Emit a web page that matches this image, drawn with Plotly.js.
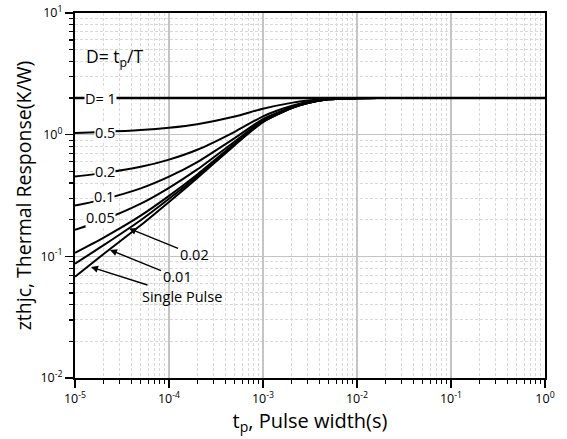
<!DOCTYPE html>
<html>
<head>
<meta charset="utf-8">
<script src="https://cdn.plot.ly/plotly-3.0.1.min.js"></script>
<style>html,body{margin:0;padding:0;background:#fff;}#chart{width:567px;height:439px;}</style>
</head>
<body>
<div id="chart"></div>
<script>
// Pulse width (s)
const tp = [1e-5, 2e-5, 5e-5, 1e-4, 2e-4, 5e-4, 1e-3, 2e-3, 3e-3, 5e-3, 1e-2, 1.7e-2];
// Thermal response Zthjc (K/W) per duty cycle
const zSingle = [0.068, 0.104, 0.18, 0.28, 0.44, 0.82, 1.27, 1.65, 1.82, 1.95, 1.995, 2.0];
const zD001   = [0.087, 0.123, 0.198, 0.297, 0.456, 0.832, 1.277, 1.654, 1.822, 1.951, 1.995, 2.0];
const zD002   = [0.107, 0.142, 0.216, 0.314, 0.471, 0.844, 1.285, 1.657, 1.824, 1.951, 1.995, 2.0];
const zD005   = [0.165, 0.199, 0.271, 0.366, 0.518, 0.879, 1.307, 1.668, 1.829, 1.953, 1.995, 2.0];
const zD01    = [0.261, 0.294, 0.362, 0.452, 0.596, 0.938, 1.343, 1.685, 1.838, 1.955, 1.996, 2.0];
const zD02    = [0.454, 0.483, 0.544, 0.624, 0.752, 1.056, 1.416, 1.72, 1.856, 1.96, 1.996, 2.0];
const zD05    = [1.034, 1.052, 1.09, 1.14, 1.22, 1.41, 1.635, 1.825, 1.91, 1.975, 1.998, 2.0];
const tpD1 = [1e-5, 1];
const zD1  = [2.0, 2.0];

const xTickVals = [1e-5, 1e-4, 1e-3, 1e-2, 1e-1, 1];
const xTickText = ['10<sup>-5</sup>', '10<sup>-4</sup>', '10<sup>-3</sup>', '10<sup>-2</sup>', '10<sup>-1</sup>', '10<sup>0</sup>'];
const yTickVals = [1e-2, 1e-1, 1, 10];
const yTickText = ['10<sup>-2</sup>', '10<sup>-1</sup>', '10<sup>0</sup>', '10<sup>1</sup>'];

function minorVals(lo, hi) {
  const v = [];
  for (let e = lo; e < hi; e++) for (let m = 2; m <= 9; m++) v.push(m * Math.pow(10, e));
  return v;
}

const series = [zSingle, zD001, zD002, zD005, zD01, zD02, zD05];
const traces = series.map(z => ({
  x: tp, y: z, type: 'scatter', mode: 'lines',
  line: {color: '#000', width: 2, shape: 'spline', smoothing: 0.6},
  hoverinfo: 'skip'
}));
traces.push({x: tpD1, y: zD1, type: 'scatter', mode: 'lines', line: {color: '#000', width: 2.6}, hoverinfo: 'skip'});

const FONT = 'Open Sans, Noto Sans, sans-serif';
function lbl(text, x, y) {
  return {text: text, xref: 'paper', yref: 'paper', x: x, y: y, xanchor: 'center', yanchor: 'middle',
    showarrow: false, bgcolor: '#fff', borderpad: 0, font: {family: FONT, size: 14.5, color: '#000'}};
}
function arr(text, x, y, ax, ay) {
  return {text: text, xref: 'paper', yref: 'paper', x: x, y: y, ax: ax, ay: ay,
    showarrow: true, arrowhead: 2, arrowsize: 1, arrowwidth: 1.4, arrowcolor: '#000',
    font: {family: FONT, size: 14.5, color: '#000'}};
}

const gridMajor = '#c4c4c4';
const gridMinor = '#d9d9d9';

const layout = {
  width: 567, height: 439,
  margin: {l: 75, r: 22, t: 13, b: 61},
  paper_bgcolor: '#fff', plot_bgcolor: '#fff',
  showlegend: false,
  font: {family: FONT, color: '#000'},
  xaxis: {
    type: 'log', range: [-5, 0],
    tickmode: 'array', tickvals: xTickVals, ticktext: xTickText,
    ticks: 'outside', ticklen: 8, tickwidth: 1.5, tickcolor: '#000',
    showline: true, linecolor: '#000', linewidth: 2, mirror: true,
    showgrid: true, gridcolor: gridMajor, gridwidth: 1.2,
    zeroline: false,
    tickfont: {family: FONT, size: 12.5, color: '#000'},
    minor: {tickmode: 'array', tickvals: minorVals(-5, 0), ticks: 'outside', ticklen: 4, tickwidth: 1.2, tickcolor: '#000',
      showgrid: true, gridcolor: gridMinor, griddash: '3px,2px', gridwidth: 1},
    title: {text: 't<sub>p</sub>, Pulse width(s)', font: {family: FONT, size: 20, color: '#000'}, standoff: 4}
  },
  yaxis: {
    type: 'log', range: [-2, 1],
    tickmode: 'array', tickvals: yTickVals, ticktext: yTickText,
    ticks: 'outside', ticklen: 8, tickwidth: 1.5, tickcolor: '#000',
    showline: true, linecolor: '#000', linewidth: 2, mirror: true,
    showgrid: true, gridcolor: gridMajor, gridwidth: 1.2,
    zeroline: false,
    tickfont: {family: FONT, size: 12.5, color: '#000'},
    minor: {tickmode: 'array', tickvals: minorVals(-2, 1), ticks: 'outside', ticklen: 4, tickwidth: 1.2, tickcolor: '#000',
      showgrid: true, gridcolor: gridMinor, griddash: '3px,2px', gridwidth: 1},
    title: {text: 'zthjc, Thermal Response(K/W)', font: {family: FONT, size: 19.5, color: '#000'}, standoff: 4}
  },
  annotations: [
    {text: 'D= t<sub>p</sub>/T', xref: 'paper', yref: 'paper', x: 0.083, y: 0.877, xanchor: 'center', yanchor: 'middle',
      showarrow: false, font: {family: FONT, size: 17.5, color: '#000'}},
    lbl('D= 1', 0.0553, 0.767),
    lbl('0.5', 0.0638, 0.673),
    lbl('0.2', 0.0638, 0.5644),
    lbl('0.1', 0.0617, 0.4959),
    lbl('0.05', 0.0553, 0.4384),
    arr('0.02', 0.1149, 0.4096, 65, 26.5),
    arr('0.01', 0.0745, 0.3507, 67, 27),
    arr('Single Pulse', 0.034, 0.3041, 91, 29)
  ]
};

Plotly.newPlot('chart', traces, layout, {staticPlot: true, displayModeBar: false});
</script>
</body>
</html>
